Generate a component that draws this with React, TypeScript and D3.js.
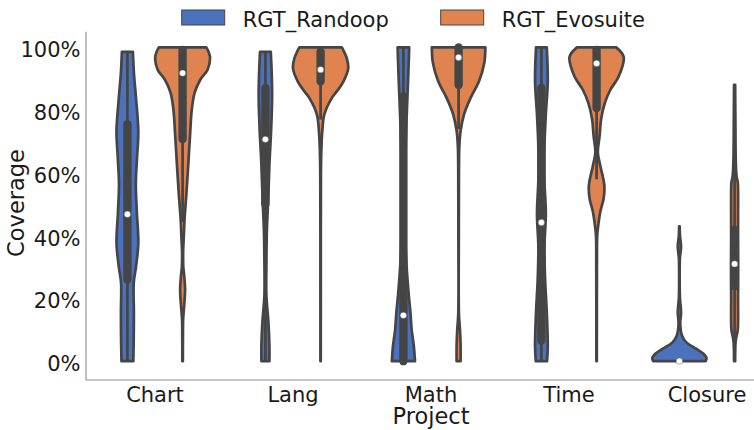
import React from "react";
import * as d3 from "d3";

const categories = ["Chart", "Lang", "Math", "Time", "Closure"];
const seriesNames = ["RGT_Randoop", "RGT_Evosuite"];
const seriesColors = ["#4a72bd", "#df8350"];
const yTicks = [0, 0.2, 0.4, 0.6, 0.8, 1.0];

// violin density profiles: [coverage, relative half-width]
const randoopProfiles: [number, number][][] = [
  [[0.986, 0.2], [0.92, 0.235], [0.84, 0.31], [0.734, 0.395], [0.65, 0.35], [0.565, 0.305], [0.47, 0.345], [0.376, 0.395], [0.3, 0.31], [0.25, 0.23], [0.155, 0.235], [0.08, 0.23], [0.0, 0.215]],
  [[0.986, 0.195], [0.9, 0.235], [0.839, 0.243], [0.734, 0.206], [0.628, 0.145], [0.523, 0.105], [0.418, 0.054], [0.313, 0.036], [0.21, 0.036], [0.124, 0.109], [0.05, 0.145], [0.0, 0.145]],
  [[1.0, 0.21], [0.92, 0.18], [0.84, 0.145], [0.73, 0.098], [0.63, 0.07], [0.5, 0.06], [0.4, 0.07], [0.31, 0.11], [0.21, 0.195], [0.155, 0.255], [0.1, 0.3], [0.05, 0.375], [0.0, 0.42]],
  [[1.0, 0.195], [0.892, 0.23], [0.786, 0.16], [0.681, 0.11], [0.576, 0.11], [0.47, 0.16], [0.365, 0.11], [0.26, 0.134], [0.155, 0.195], [0.05, 0.23], [0.0, 0.205]],
  [[0.43, 0.01], [0.4, 0.02], [0.365, 0.06], [0.33, 0.02], [0.25, 0.01], [0.2, 0.02], [0.155, 0.06], [0.12, 0.03], [0.08, 0.1], [0.06, 0.25], [0.04, 0.6], [0.025, 0.85], [0.01, 0.98], [0.0, 0.95]],
];

const evosuiteProfiles: [number, number][][] = [
  [[1.0, 0.86], [0.971, 0.99], [0.929, 0.905], [0.897, 0.64], [0.855, 0.435], [0.802, 0.333], [0.718, 0.268], [0.613, 0.196], [0.528, 0.134], [0.455, 0.072], [0.4, 0.045], [0.35, 0.02], [0.302, 0.025], [0.27, 0.06], [0.228, 0.09], [0.18, 0.06], [0.134, 0.02], [0.07, 0.012], [0.0, 0.01]],
  [[1.0, 0.77], [0.965, 0.95], [0.933, 1.0], [0.892, 0.83], [0.86, 0.59], [0.839, 0.41], [0.786, 0.134], [0.734, 0.062], [0.681, 0.03], [0.6, 0.012], [0.3, 0.008], [0.0, 0.006]],
  [[1.0, 0.97], [0.95, 0.93], [0.892, 0.74], [0.839, 0.435], [0.786, 0.195], [0.734, 0.072], [0.681, 0.025], [0.6, 0.012], [0.4, 0.008], [0.15, 0.012], [0.1, 0.05], [0.05, 0.072], [0.0, 0.072]],
  [[1.0, 0.71], [0.97, 0.98], [0.907, 0.8], [0.865, 0.5], [0.823, 0.3], [0.771, 0.163], [0.718, 0.109], [0.665, 0.045], [0.623, 0.134], [0.56, 0.28], [0.518, 0.254], [0.476, 0.134], [0.434, 0.062], [0.4, 0.022], [0.3, 0.012], [0.0, 0.008]],
  [[0.881, 0.02], [0.75, 0.03], [0.65, 0.04], [0.59, 0.07], [0.57, 0.115], [0.55, 0.125], [0.4, 0.125], [0.3, 0.13], [0.2, 0.125], [0.1, 0.115], [0.08, 0.07], [0.06, 0.035], [0.0, 0.02]],
];

// inner box stats: [whiskerLow, q1, median, q3, whiskerHigh]
const randoopBoxes: number[][] = [
  [0.0, 0.26, 0.468, 0.755, 0.986],
  [0.0, 0.5, 0.707, 0.871, 0.986],
  [0.0, 0.0, 0.146, 0.844, 1.0],
  [0.0, 0.066, 0.442, 0.871, 1.0],
  [0.0, 0.0, 0.0, 0.0, 0.0],
];
const evosuiteBoxes: number[][] = [
  [0.444, 0.708, 0.918, 0.992, 1.0],
  [0.77, 0.892, 0.929, 0.986, 1.0],
  [0.74, 0.88, 0.968, 1.0, 1.0],
  [0.58, 0.807, 0.949, 0.992, 1.0],
  [0.0, 0.239, 0.31, 0.418, 0.68],
];

const W = 754;
const H = 430;
const plotLeft = 86;
const plotTop = 31.7;
const plotBottom = 380;
const gray = "#454545";
const lw = 2.7;
const font = "DejaVu Sans, sans-serif";

export default function App() {
  const x = d3.scaleBand<string>().domain(categories).range([plotLeft, plotLeft + 138 * 5]).padding(0);
  const bw = x.bandwidth();
  const y = d3.scaleLinear().domain([-0.06, 1.05]).range([plotBottom, plotTop]);
  const hueOffset = d3.scaleLinear().domain([0, 1]).range([-0.2 * bw, 0.2 * bw]);
  const wScale = d3.scaleLinear().domain([0, 1]).range([0, 0.2 * bw]);
  const pct = d3.format(".0%");

  const groups = [randoopProfiles, evosuiteProfiles];
  const boxes = [randoopBoxes, evosuiteBoxes];

  const violins: React.ReactNode[] = [];
  categories.forEach((cat, ci) => {
    groups.forEach((profiles, si) => {
      const cx = (x(cat) as number) + bw / 2 + hueOffset(si);
      const prof = profiles[ci];
      const area = d3
        .area<[number, number]>()
        .y((d) => y(d[0]))
        .x0((d) => cx - wScale(d[1]))
        .x1((d) => cx + wScale(d[1]))
        .curve(d3.curveCatmullRom.alpha(0.5));
      const [wl, q1, med, q3, wh] = boxes[si][ci];
      violins.push(
        <g key={`${cat}-${si}`}>
          <path d={area(prof) || ""} fill={seriesColors[si]} stroke={gray} strokeWidth={lw} strokeLinejoin="round" />
          {wh > wl && <line x1={cx} x2={cx} y1={y(wl)} y2={y(wh)} stroke={gray} strokeWidth={lw} />}
          {q3 > q1 && (
            <line x1={cx} x2={cx} y1={y(q1)} y2={y(q3)} stroke={gray} strokeWidth={lw * 3.1} strokeLinecap="round" />
          )}
          <circle cx={cx} cy={y(med)} r={3.2} fill="white" stroke={gray} strokeWidth={0.4} />
        </g>
      );
    });
  });

  return (
    <svg width={W} height={H} style={{ position: "absolute", left: 0, top: 0, background: "white" }} fontFamily={font}>
      {/* spines */}
      <line x1={plotLeft} x2={plotLeft} y1={plotTop} y2={plotBottom} stroke="#8c8c8c" strokeWidth={1.1} />
      <line x1={plotLeft} x2={W} y1={plotBottom} y2={plotBottom} stroke="#8c8c8c" strokeWidth={1.1} />
      {/* y ticks */}
      {yTicks.map((t) => (
        <text key={t} x={80.5} y={y(t) + 10} textAnchor="end" fontSize={21} fill="#1a1a1a">
          {pct(t)}
        </text>
      ))}
      {/* x ticks */}
      {categories.map((c) => (
        <text key={c} x={(x(c) as number) + bw / 2} y={402} textAnchor="middle" fontSize={21} fill="#1a1a1a">
          {c}
        </text>
      ))}
      <text x={431} y={424} textAnchor="middle" fontSize={22.5} fill="#1a1a1a">
        Project
      </text>
      <text transform={`translate(24,203) rotate(-90)`} textAnchor="middle" fontSize={22.5} fill="#1a1a1a">
        Coverage
      </text>
      {violins}
      {/* legend */}
      {seriesNames.map((s, i) => {
        const lx = [181.7, 440.7][i];
        return (
          <g key={s}>
            <rect x={lx} y={10} width={43} height={15} fill={seriesColors[i]} stroke={gray} strokeWidth={1} />
            <text x={lx + 61} y={26.7} fontSize={21} fill="#1a1a1a">
              {s}
            </text>
          </g>
        );
      })}
    </svg>
  );
}
